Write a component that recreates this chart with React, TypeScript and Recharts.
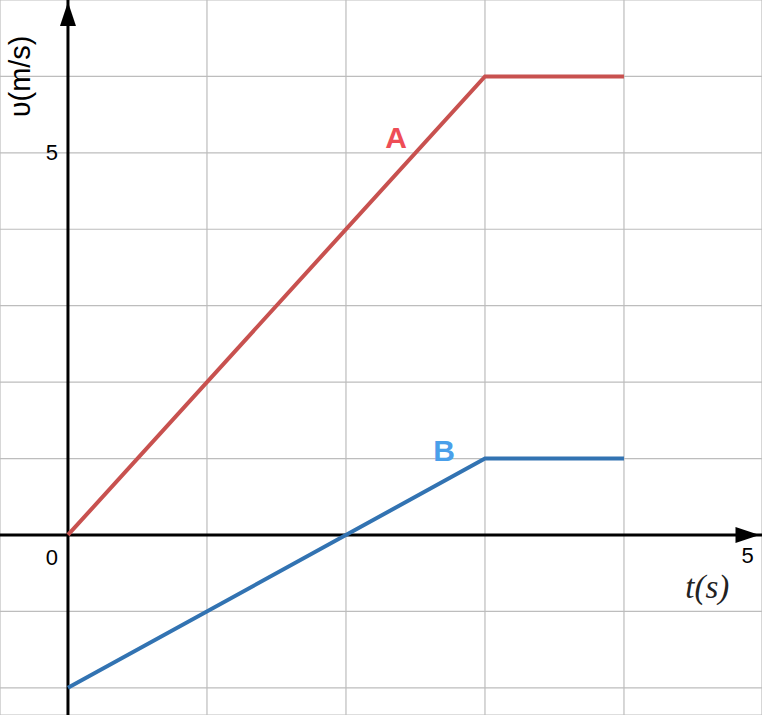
import React from 'react';
import { ComposedChart, Line, XAxis, YAxis, CartesianGrid, ReferenceLine, ReferenceDot } from 'recharts';

const seriesA = [
  { t: 0, v: 0 },
  { t: 3, v: 6 },
  { t: 4, v: 6 },
];
const seriesB = [
  { t: 0, v: -2 },
  { t: 3, v: 1 },
  { t: 4, v: 1 },
];
const xTicks = [0, 1, 2, 3, 4];
const yTicks = [-2, -1, 0, 1, 2, 3, 4, 5, 6];
const xDomain = [-0.489, 4.993];
const yDomain = [-2.356, 7.0];

const W = 762;
const H = 715;

const UpArrow = (props: any) => {
  const { cx, cy } = props;
  return <path d={`M ${cx} ${cy + 2} L ${cx - 8} ${cy + 26} L ${cx + 8} ${cy + 26} Z`} fill="#000" />;
};
const RightArrow = (props: any) => {
  const { cx, cy } = props;
  return <path d={`M ${cx} ${cy} L ${cx - 24} ${cy - 8} L ${cx - 24} ${cy + 8} Z`} fill="#000" />;
};
const makeText = (txt: string, color: string, size: number, extra: any = {}) => (props: any) => {
  const { cx, cy } = props;
  return (
    <text x={cx} y={cy} fill={color} fontSize={size} textAnchor="middle" dominantBaseline="central" {...extra}>
      {txt}
    </text>
  );
};

export default function App() {
  return (
    <div style={{ position: 'absolute', left: 0, top: 0, width: W, height: H, background: '#fff' }}>
      <ComposedChart width={W} height={H} margin={{ top: 0, right: 0, bottom: 0, left: 0 }}>
        <XAxis type="number" dataKey="t" domain={xDomain} ticks={xTicks} hide allowDataOverflow />
        <YAxis type="number" dataKey="v" domain={yDomain} ticks={yTicks} hide allowDataOverflow />
        <CartesianGrid stroke="#bdbdbd" strokeWidth={1.2} />
        <ReferenceLine x={0} stroke="#000" strokeWidth={3} />
        <ReferenceLine y={0} stroke="#000" strokeWidth={3} />
        <Line data={seriesA} dataKey="v" type="linear" stroke="#c8514f" strokeWidth={4} dot={false} activeDot={false} isAnimationActive={false} />
        <Line data={seriesB} dataKey="v" type="linear" stroke="#3273b2" strokeWidth={4} dot={false} activeDot={false} isAnimationActive={false} />
        <ReferenceDot x={0} y={7.0} r={0} shape={UpArrow} ifOverflow="visible" />
        <ReferenceDot x={4.975} y={0} r={0} shape={RightArrow} ifOverflow="visible" />
        <ReferenceDot x={2.36} y={5.2} r={0} shape={makeText('A', '#ee4d56', 30, { fontFamily: 'Liberation Sans, Arial, sans-serif', fontWeight: 'bold' })} ifOverflow="visible" />
        <ReferenceDot x={2.705} y={1.11} r={0} shape={makeText('B', '#4a9fea', 30, { fontFamily: 'Liberation Sans, Arial, sans-serif', fontWeight: 'bold' })} ifOverflow="visible" />
        <ReferenceDot x={-0.115} y={5} r={0} shape={makeText('5', '#000', 22, { fontFamily: 'Liberation Sans, Arial, sans-serif' })} ifOverflow="visible" />
        <ReferenceDot x={-0.115} y={-0.3} r={0} shape={makeText('0', '#000', 22, { fontFamily: 'Liberation Sans, Arial, sans-serif' })} ifOverflow="visible" />
        <ReferenceDot x={4.89} y={-0.27} r={0} shape={makeText('5', '#000', 22, { fontFamily: 'Liberation Sans, Arial, sans-serif' })} ifOverflow="visible" />
        <ReferenceDot x={4.6} y={-0.68} r={0} shape={makeText('t(s)', '#222', 33, { fontFamily: 'Liberation Serif, Times New Roman, serif', fontStyle: 'italic' })} ifOverflow="visible" />
        <ReferenceDot x={-0.345} y={6.0} r={0} shape={(p: any) => (
          <text x={p.cx} y={p.cy} fill="#000" fontSize={29} textAnchor="middle" dominantBaseline="central" fontFamily="Liberation Sans, Arial, sans-serif" transform={`rotate(-90 ${p.cx} ${p.cy})`}>
            υ(m/s)
          </text>
        )} ifOverflow="visible" />
      </ComposedChart>
    </div>
  );
}
